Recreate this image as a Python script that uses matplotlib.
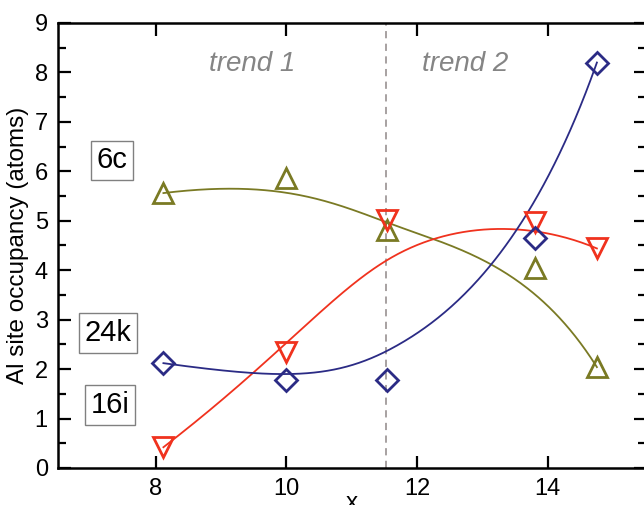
import numpy as np
import matplotlib
matplotlib.use('Agg')
import matplotlib.pyplot as plt

plt.rcParams['font.family'] = ['Liberation Sans', 'DejaVu Sans']

# Al site occupancy vs x, three Wyckoff sites
x_6c = [8.12, 9.99, 11.54, 13.80, 14.75]
occ_6c = [5.56, 5.86, 4.81, 4.04, 2.04]

x_16i = [8.12, 10.00, 11.54, 13.80, 14.75]
occ_16i = [0.42, 2.34, 5.02, 4.97, 4.44]

x_24k = [8.12, 10.00, 11.54, 13.80, 14.75]
occ_24k = [2.12, 1.78, 1.78, 4.65, 8.20]

x_split = 11.52

olive = '#7a7a24'
red = '#f0321e'
navy = '#2b2b85'


def bspline(xs, ys, k=3, n=300):
    # clamped cubic B-spline with the data points as control points
    P = np.column_stack([xs, ys])
    m = len(P)
    knots = np.concatenate([np.zeros(k), np.linspace(0, 1, m - k + 1), np.ones(k)])
    u = np.linspace(0, 1, n)
    u[-1] -= 1e-9
    N = np.array([((knots[i] <= u) & (u < knots[i + 1])).astype(float) for i in range(len(knots) - 1)])
    for d in range(1, k + 1):
        Nn = np.zeros((len(knots) - 1 - d, n))
        for i in range(len(knots) - 1 - d):
            a = knots[i + d] - knots[i]
            b = knots[i + d + 1] - knots[i + 1]
            left = (u - knots[i]) / a * N[i] if a > 0 else 0
            right = (knots[i + d + 1] - u) / b * N[i + 1] if b > 0 else 0
            Nn[i] = left + right
        N = Nn
    C = N.T @ P
    return C[:, 0], C[:, 1]


fig = plt.figure(figsize=(6.44, 5.05), dpi=100)
ax = fig.add_axes([0.0893, 0.0733, 1.003 - 0.0893, 0.9545 - 0.0733])

series = [(x_6c, occ_6c, olive, '^', 15),
          (x_16i, occ_16i, red, 'v', 15),
          (x_24k, occ_24k, navy, 'D', 11)]

for xs, ys, col, mk, ms in series:
    cx, cy = bspline(xs, ys)
    ax.plot(cx, cy, color=col, lw=1.3, zorder=2)
    ax.plot(xs, ys, ls='none', marker=mk, ms=ms, mfc='none', mec=col, mew=2.0, zorder=3)

ax.axvline(x_split, color='#a09a9a', ls=(0, (4, 3)), lw=1.3, zorder=1)

ax.text(9.47, 8.18, 'trend 1', fontsize=20, style='italic', color='#858585', ha='center', va='center')
ax.text(12.73, 8.18, 'trend 2', fontsize=20, style='italic', color='#858585', ha='center', va='center')

box = dict(boxstyle='square,pad=0.2', fc='white', ec='#808080', lw=1.0)
ax.text(7.33, 6.22, '6c', fontsize=21, ha='center', va='center', bbox=box)
ax.text(7.27, 2.73, '24k', fontsize=21, ha='center', va='center', bbox=box)
ax.text(7.30, 1.27, '16i', fontsize=21, ha='center', va='center', bbox=box)

ax.set_xlim(6.5, 15.5)
ax.set_ylim(0, 9)
ax.set_xticks([8, 10, 12, 14])
ax.set_yticks(range(0, 10))
ax.set_yticks(np.arange(0.5, 9, 1.0), minor=True)

ax.tick_params(which='both', direction='in', top=True, right=True, labelsize=17, pad=7)
ax.tick_params(which='major', length=9, width=1.6)
ax.tick_params(which='minor', length=6, width=1.6)
for s in ax.spines.values():
    s.set_linewidth(1.8)

ax.set_ylabel('Al site occupancy (atoms)', fontsize=17.5, labelpad=4)
ax.set_xlabel('x', fontsize=17.5)
ax.xaxis.set_label_coords(0.5, -0.053)

fig.savefig('out.png', dpi=100)
